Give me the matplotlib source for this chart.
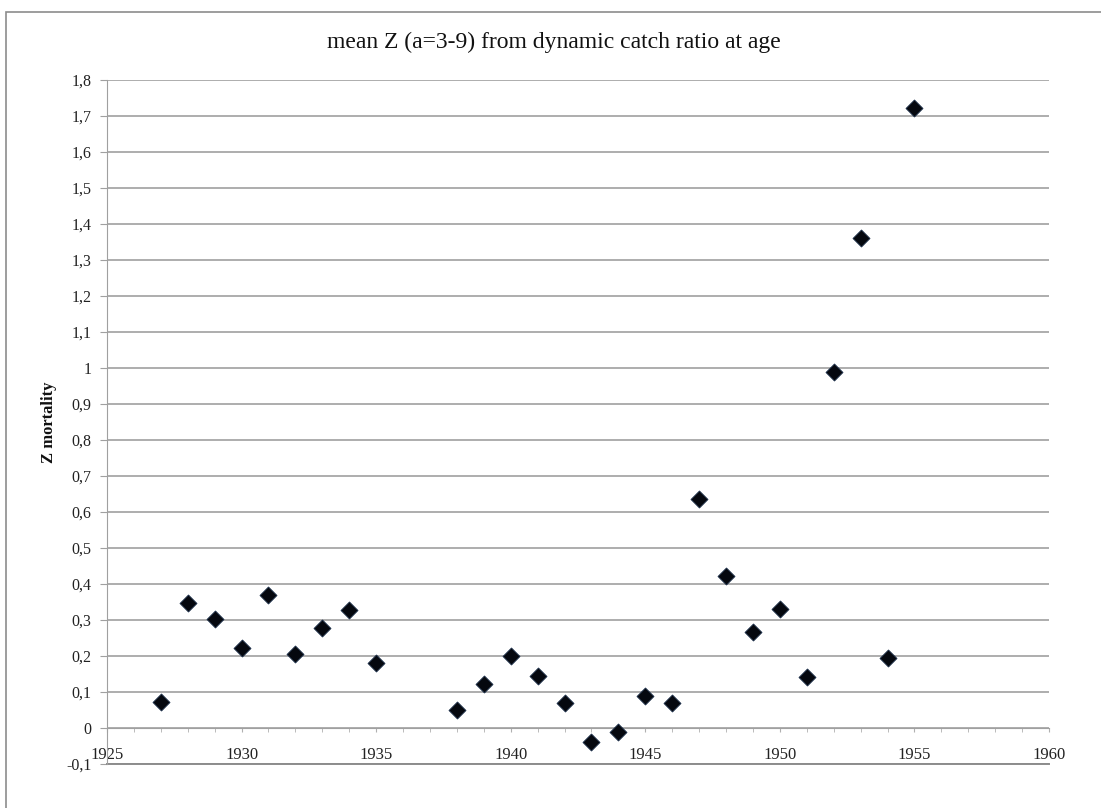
import matplotlib
matplotlib.use("Agg")
import matplotlib.pyplot as plt
from matplotlib.patches import Rectangle
from matplotlib.ticker import MultipleLocator, FuncFormatter

# data
years = [1927, 1928, 1929, 1930, 1931, 1932, 1933, 1934, 1935,
         1938, 1939, 1940, 1941, 1942, 1943, 1944, 1945, 1946,
         1947, 1948, 1949, 1950, 1951, 1952, 1953, 1954, 1955]
z_mortality = [0.073, 0.347, 0.302, 0.222, 0.370, 0.206, 0.278, 0.328, 0.180,
               0.050, 0.122, 0.200, 0.144, 0.069, -0.039, -0.011, 0.089, 0.069,
               0.636, 0.422, 0.267, 0.331, 0.142, 0.990, 1.361, 0.194, 1.723]

title = "mean Z (a=3-9) from dynamic catch ratio at age"
ylabel = "Z mortality"

plt.rcParams['font.family'] = ['Liberation Serif', 'DejaVu Serif']

W, H = 1101, 808
fig = plt.figure(figsize=(W / 100, H / 100), dpi=100)
fig.patch.set_facecolor('white')

# outer chart frame (only top and left edges visible)
frame = Rectangle((6 / W, -0.2), 1.5, (H - 12) / H + 0.2, transform=fig.transFigure,
                  fill=False, edgecolor='#8c8c8c', lw=1.2)
fig.patches.append(frame)

ax = fig.add_axes([107 / W, 1 - 764 / H, (1049 - 107) / W, (764 - 80) / H])

ax.scatter(years, z_mortality, marker='D', s=75, color='#05080f',
           edgecolors='#1c2f4a', linewidths=0.6, zorder=3)

ax.set_xlim(1925, 1960)
ax.set_ylim(-0.1, 1.8)

ax.yaxis.set_major_locator(MultipleLocator(0.1))
ax.xaxis.set_major_locator(MultipleLocator(5))
ax.xaxis.set_minor_locator(MultipleLocator(1))


def comma_fmt(v, pos):
    v = round(v, 1)
    if abs(v) < 1e-9:
        return "0"
    s = f"{v:.1f}"
    if s.endswith(".0"):
        s = s[:-2]
    return s.replace(".", ",")


ax.yaxis.set_major_formatter(FuncFormatter(comma_fmt))
ax.xaxis.set_major_formatter(FuncFormatter(lambda v, p: f"{int(round(v))}"))

ax.grid(axis='y', color='#a0a0a0', lw=1.2)
ax.set_axisbelow(True)

for s in ['top', 'right']:
    ax.spines[s].set_visible(False)
ax.spines['left'].set_color('#a0a0a0')
ax.spines['bottom'].set_position(('data', 0))
ax.spines['bottom'].set_color('#a0a0a0')
ax.axhline(-0.1, color='#8c8c8c', lw=1.4, zorder=1, clip_on=False)

ax.tick_params(axis='y', direction='out', length=5, color='#a0a0a0',
               labelsize=11.5, pad=6, labelcolor='#222222')
ax.tick_params(axis='x', which='both', direction='out', length=3, color='#b0b0b0',
               labelsize=12, pad=11, labelcolor='#222222')

# title centred over the whole chart area, not over the axes
fig.text(554 / W, 1 - 42 / H, title, fontsize=17, color='#111111',
         ha='center', va='center')
ax.set_ylabel(ylabel, fontsize=12, fontweight='bold', color='#111111')
ax.yaxis.set_label_coords(-0.053, 0.5)

fig.savefig("out.png", dpi=100)
